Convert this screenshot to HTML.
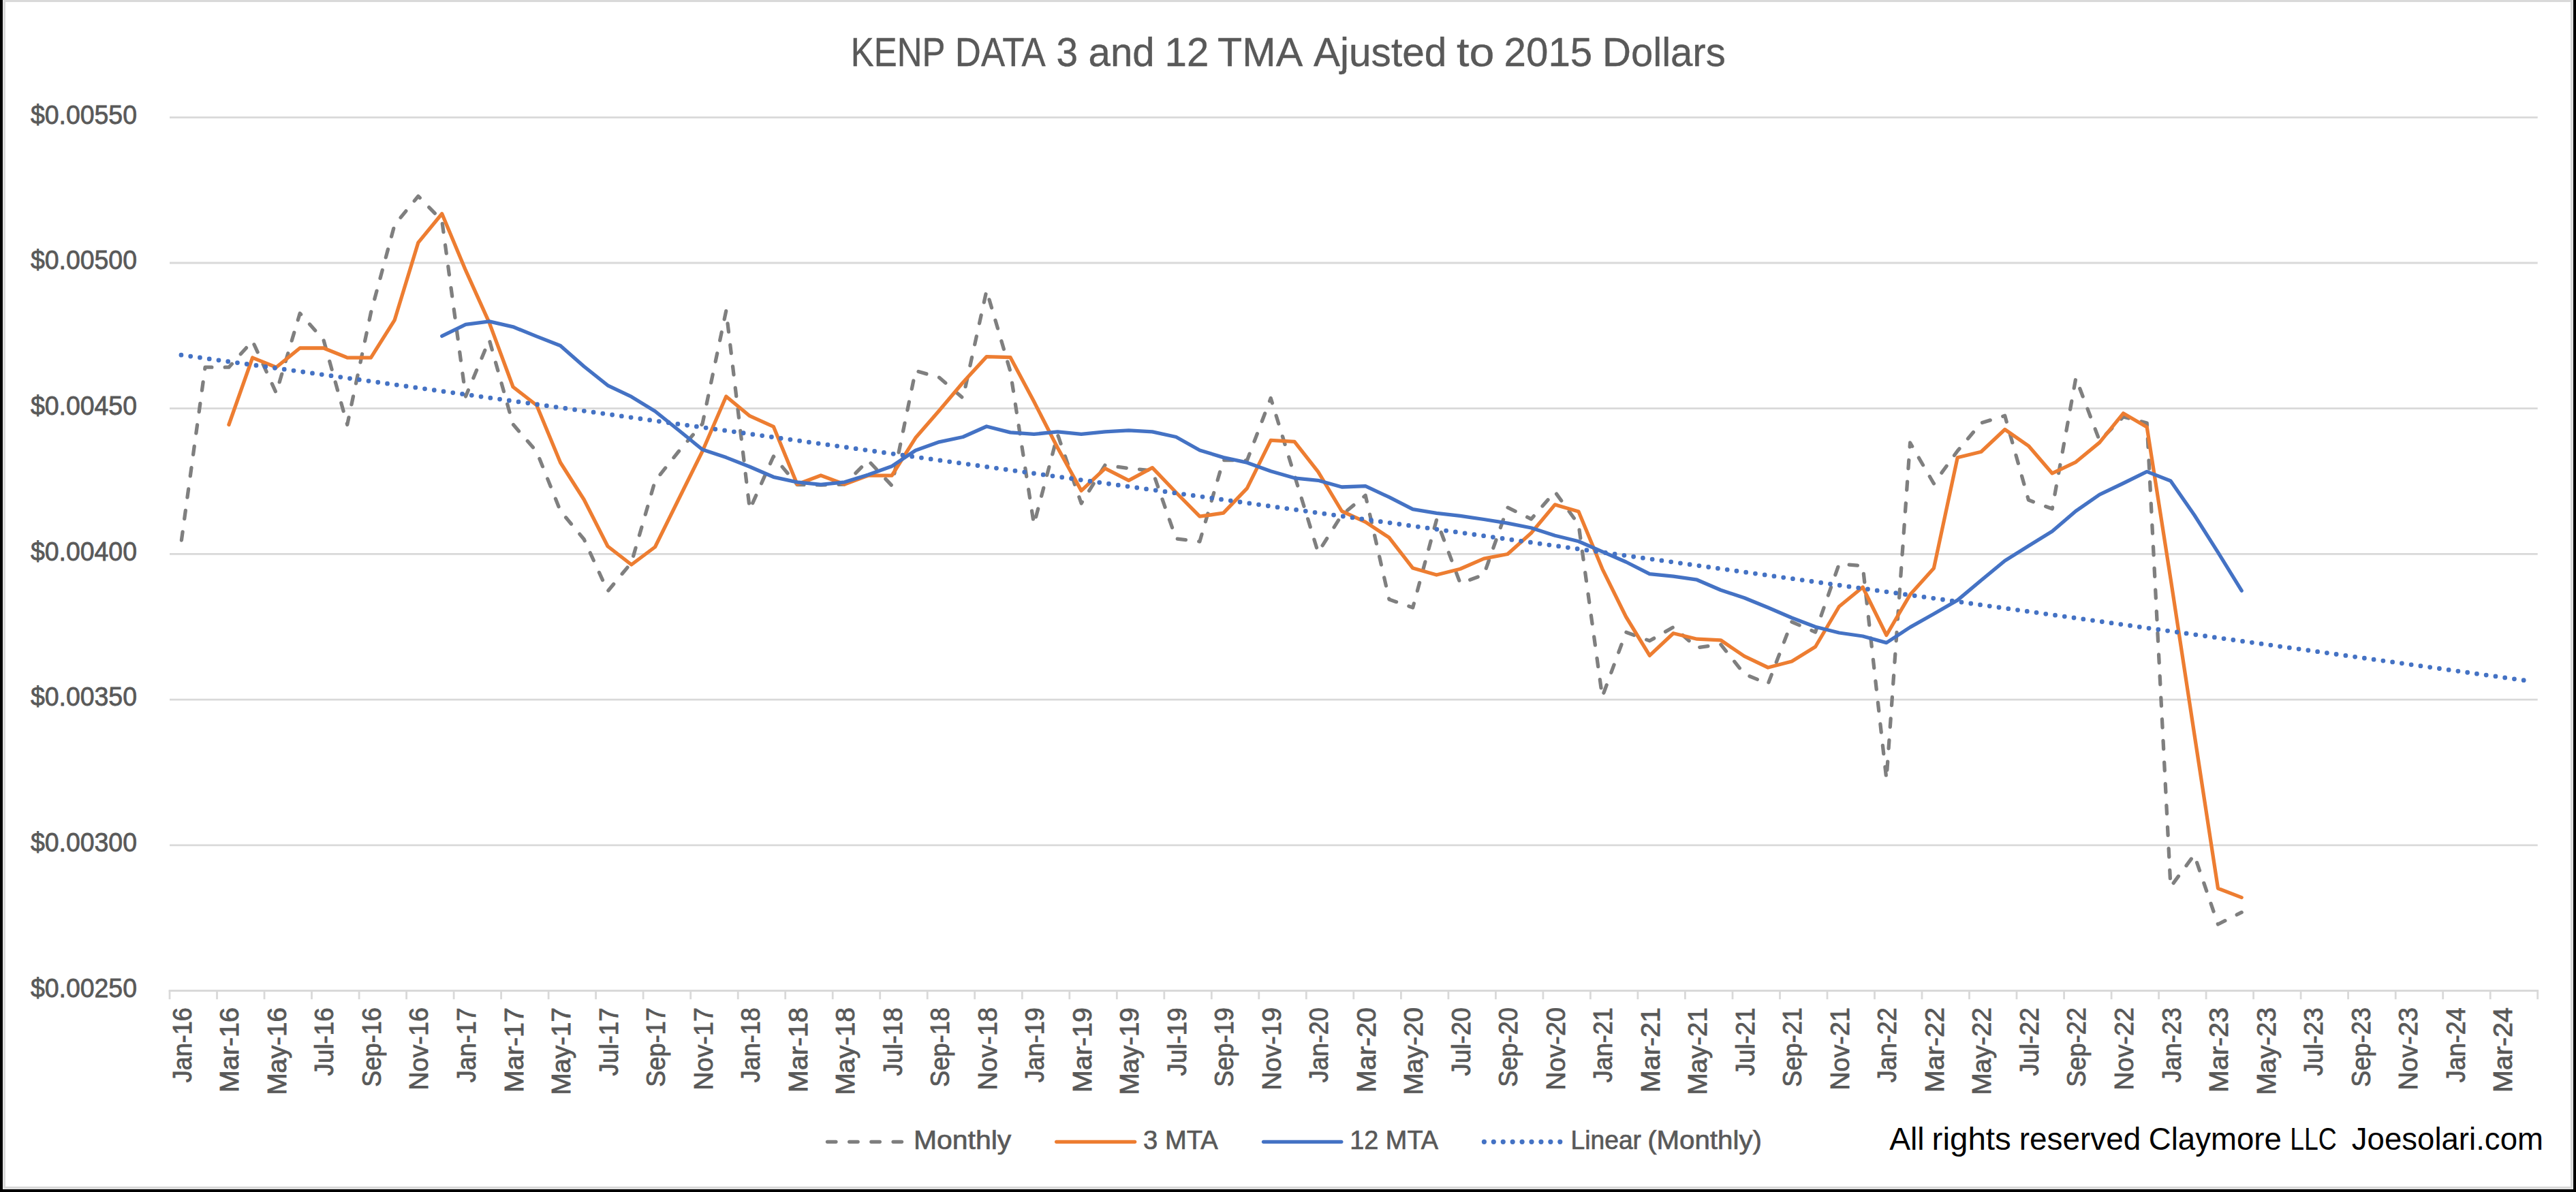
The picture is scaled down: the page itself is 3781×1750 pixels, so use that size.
<!DOCTYPE html>
<html><head><meta charset="utf-8"><title>KENP chart</title>
<style>
html,body{margin:0;padding:0;background:#000;}
body{width:3781px;height:1750px;position:relative;overflow:hidden;font-family:"Liberation Sans",sans-serif;}
#frame{position:absolute;left:4px;top:-1px;width:3773px;height:1747px;background:#fff;box-sizing:border-box;border:1px solid #ececec;}
#inner{position:absolute;left:0;top:0;right:0;bottom:0;border:3px solid #d9d9d9;}
</style></head><body>
<div id="frame"><div id="inner"></div></div>
<svg width="3781" height="1750" viewBox="0 0 3781 1750" style="position:absolute;left:0;top:0">
<line x1="249.0" y1="172.3" x2="3724.7" y2="172.3" stroke="#d9d9d9" stroke-width="2.8"/>
<line x1="249.0" y1="386.0" x2="3724.7" y2="386.0" stroke="#d9d9d9" stroke-width="2.8"/>
<line x1="249.0" y1="599.7" x2="3724.7" y2="599.7" stroke="#d9d9d9" stroke-width="2.8"/>
<line x1="249.0" y1="813.3999999999999" x2="3724.7" y2="813.3999999999999" stroke="#d9d9d9" stroke-width="2.8"/>
<line x1="249.0" y1="1027.1" x2="3724.7" y2="1027.1" stroke="#d9d9d9" stroke-width="2.8"/>
<line x1="249.0" y1="1240.8" x2="3724.7" y2="1240.8" stroke="#d9d9d9" stroke-width="2.8"/>
<line x1="247.6" y1="1454.4999999999998" x2="3726.1" y2="1454.4999999999998" stroke="#d9d9d9" stroke-width="2.8"/>
<line x1="249.0" y1="1454.4999999999998" x2="249.0" y2="1467.0999999999997" stroke="#d9d9d9" stroke-width="2.8"/>
<line x1="318.5" y1="1454.4999999999998" x2="318.5" y2="1467.0999999999997" stroke="#d9d9d9" stroke-width="2.8"/>
<line x1="388.0" y1="1454.4999999999998" x2="388.0" y2="1467.0999999999997" stroke="#d9d9d9" stroke-width="2.8"/>
<line x1="457.5" y1="1454.4999999999998" x2="457.5" y2="1467.0999999999997" stroke="#d9d9d9" stroke-width="2.8"/>
<line x1="527.1" y1="1454.4999999999998" x2="527.1" y2="1467.0999999999997" stroke="#d9d9d9" stroke-width="2.8"/>
<line x1="596.6" y1="1454.4999999999998" x2="596.6" y2="1467.0999999999997" stroke="#d9d9d9" stroke-width="2.8"/>
<line x1="666.1" y1="1454.4999999999998" x2="666.1" y2="1467.0999999999997" stroke="#d9d9d9" stroke-width="2.8"/>
<line x1="735.6" y1="1454.4999999999998" x2="735.6" y2="1467.0999999999997" stroke="#d9d9d9" stroke-width="2.8"/>
<line x1="805.1" y1="1454.4999999999998" x2="805.1" y2="1467.0999999999997" stroke="#d9d9d9" stroke-width="2.8"/>
<line x1="874.6" y1="1454.4999999999998" x2="874.6" y2="1467.0999999999997" stroke="#d9d9d9" stroke-width="2.8"/>
<line x1="944.1" y1="1454.4999999999998" x2="944.1" y2="1467.0999999999997" stroke="#d9d9d9" stroke-width="2.8"/>
<line x1="1013.7" y1="1454.4999999999998" x2="1013.7" y2="1467.0999999999997" stroke="#d9d9d9" stroke-width="2.8"/>
<line x1="1083.2" y1="1454.4999999999998" x2="1083.2" y2="1467.0999999999997" stroke="#d9d9d9" stroke-width="2.8"/>
<line x1="1152.7" y1="1454.4999999999998" x2="1152.7" y2="1467.0999999999997" stroke="#d9d9d9" stroke-width="2.8"/>
<line x1="1222.2" y1="1454.4999999999998" x2="1222.2" y2="1467.0999999999997" stroke="#d9d9d9" stroke-width="2.8"/>
<line x1="1291.7" y1="1454.4999999999998" x2="1291.7" y2="1467.0999999999997" stroke="#d9d9d9" stroke-width="2.8"/>
<line x1="1361.2" y1="1454.4999999999998" x2="1361.2" y2="1467.0999999999997" stroke="#d9d9d9" stroke-width="2.8"/>
<line x1="1430.7" y1="1454.4999999999998" x2="1430.7" y2="1467.0999999999997" stroke="#d9d9d9" stroke-width="2.8"/>
<line x1="1500.3" y1="1454.4999999999998" x2="1500.3" y2="1467.0999999999997" stroke="#d9d9d9" stroke-width="2.8"/>
<line x1="1569.8" y1="1454.4999999999998" x2="1569.8" y2="1467.0999999999997" stroke="#d9d9d9" stroke-width="2.8"/>
<line x1="1639.3" y1="1454.4999999999998" x2="1639.3" y2="1467.0999999999997" stroke="#d9d9d9" stroke-width="2.8"/>
<line x1="1708.8" y1="1454.4999999999998" x2="1708.8" y2="1467.0999999999997" stroke="#d9d9d9" stroke-width="2.8"/>
<line x1="1778.3" y1="1454.4999999999998" x2="1778.3" y2="1467.0999999999997" stroke="#d9d9d9" stroke-width="2.8"/>
<line x1="1847.8" y1="1454.4999999999998" x2="1847.8" y2="1467.0999999999997" stroke="#d9d9d9" stroke-width="2.8"/>
<line x1="1917.3" y1="1454.4999999999998" x2="1917.3" y2="1467.0999999999997" stroke="#d9d9d9" stroke-width="2.8"/>
<line x1="1986.8" y1="1454.4999999999998" x2="1986.8" y2="1467.0999999999997" stroke="#d9d9d9" stroke-width="2.8"/>
<line x1="2056.4" y1="1454.4999999999998" x2="2056.4" y2="1467.0999999999997" stroke="#d9d9d9" stroke-width="2.8"/>
<line x1="2125.9" y1="1454.4999999999998" x2="2125.9" y2="1467.0999999999997" stroke="#d9d9d9" stroke-width="2.8"/>
<line x1="2195.4" y1="1454.4999999999998" x2="2195.4" y2="1467.0999999999997" stroke="#d9d9d9" stroke-width="2.8"/>
<line x1="2264.9" y1="1454.4999999999998" x2="2264.9" y2="1467.0999999999997" stroke="#d9d9d9" stroke-width="2.8"/>
<line x1="2334.4" y1="1454.4999999999998" x2="2334.4" y2="1467.0999999999997" stroke="#d9d9d9" stroke-width="2.8"/>
<line x1="2403.9" y1="1454.4999999999998" x2="2403.9" y2="1467.0999999999997" stroke="#d9d9d9" stroke-width="2.8"/>
<line x1="2473.4" y1="1454.4999999999998" x2="2473.4" y2="1467.0999999999997" stroke="#d9d9d9" stroke-width="2.8"/>
<line x1="2543.0" y1="1454.4999999999998" x2="2543.0" y2="1467.0999999999997" stroke="#d9d9d9" stroke-width="2.8"/>
<line x1="2612.5" y1="1454.4999999999998" x2="2612.5" y2="1467.0999999999997" stroke="#d9d9d9" stroke-width="2.8"/>
<line x1="2682.0" y1="1454.4999999999998" x2="2682.0" y2="1467.0999999999997" stroke="#d9d9d9" stroke-width="2.8"/>
<line x1="2751.5" y1="1454.4999999999998" x2="2751.5" y2="1467.0999999999997" stroke="#d9d9d9" stroke-width="2.8"/>
<line x1="2821.0" y1="1454.4999999999998" x2="2821.0" y2="1467.0999999999997" stroke="#d9d9d9" stroke-width="2.8"/>
<line x1="2890.5" y1="1454.4999999999998" x2="2890.5" y2="1467.0999999999997" stroke="#d9d9d9" stroke-width="2.8"/>
<line x1="2960.0" y1="1454.4999999999998" x2="2960.0" y2="1467.0999999999997" stroke="#d9d9d9" stroke-width="2.8"/>
<line x1="3029.6" y1="1454.4999999999998" x2="3029.6" y2="1467.0999999999997" stroke="#d9d9d9" stroke-width="2.8"/>
<line x1="3099.1" y1="1454.4999999999998" x2="3099.1" y2="1467.0999999999997" stroke="#d9d9d9" stroke-width="2.8"/>
<line x1="3168.6" y1="1454.4999999999998" x2="3168.6" y2="1467.0999999999997" stroke="#d9d9d9" stroke-width="2.8"/>
<line x1="3238.1" y1="1454.4999999999998" x2="3238.1" y2="1467.0999999999997" stroke="#d9d9d9" stroke-width="2.8"/>
<line x1="3307.6" y1="1454.4999999999998" x2="3307.6" y2="1467.0999999999997" stroke="#d9d9d9" stroke-width="2.8"/>
<line x1="3377.1" y1="1454.4999999999998" x2="3377.1" y2="1467.0999999999997" stroke="#d9d9d9" stroke-width="2.8"/>
<line x1="3446.6" y1="1454.4999999999998" x2="3446.6" y2="1467.0999999999997" stroke="#d9d9d9" stroke-width="2.8"/>
<line x1="3516.2" y1="1454.4999999999998" x2="3516.2" y2="1467.0999999999997" stroke="#d9d9d9" stroke-width="2.8"/>
<line x1="3585.7" y1="1454.4999999999998" x2="3585.7" y2="1467.0999999999997" stroke="#d9d9d9" stroke-width="2.8"/>
<line x1="3655.2" y1="1454.4999999999998" x2="3655.2" y2="1467.0999999999997" stroke="#d9d9d9" stroke-width="2.8"/>
<line x1="3724.7" y1="1454.4999999999998" x2="3724.7" y2="1467.0999999999997" stroke="#d9d9d9" stroke-width="2.8"/>
<text x="44.92" y="181.5" font-family="Liberation Sans" font-size="38.6" fill="#595959" stroke="#595959" stroke-width="0.8" textLength="156.05" lengthAdjust="spacingAndGlyphs">$0.00550</text>
<text x="44.92" y="395.2" font-family="Liberation Sans" font-size="38.6" fill="#595959" stroke="#595959" stroke-width="0.8" textLength="156.05" lengthAdjust="spacingAndGlyphs">$0.00500</text>
<text x="44.92" y="608.9" font-family="Liberation Sans" font-size="38.6" fill="#595959" stroke="#595959" stroke-width="0.8" textLength="156.05" lengthAdjust="spacingAndGlyphs">$0.00450</text>
<text x="44.92" y="822.6" font-family="Liberation Sans" font-size="38.6" fill="#595959" stroke="#595959" stroke-width="0.8" textLength="156.05" lengthAdjust="spacingAndGlyphs">$0.00400</text>
<text x="44.92" y="1036.3" font-family="Liberation Sans" font-size="38.6" fill="#595959" stroke="#595959" stroke-width="0.8" textLength="156.05" lengthAdjust="spacingAndGlyphs">$0.00350</text>
<text x="44.92" y="1250.0" font-family="Liberation Sans" font-size="38.6" fill="#595959" stroke="#595959" stroke-width="0.8" textLength="156.05" lengthAdjust="spacingAndGlyphs">$0.00300</text>
<text x="44.92" y="1463.7" font-family="Liberation Sans" font-size="38.6" fill="#595959" stroke="#595959" stroke-width="0.8" textLength="156.05" lengthAdjust="spacingAndGlyphs">$0.00250</text>
<text transform="translate(280.9,1589.17) rotate(-90)" x="0" y="0" font-family="Liberation Sans" font-size="38.3" fill="#595959" stroke="#595959" stroke-width="0.9" textLength="109.88" lengthAdjust="spacingAndGlyphs">Jan-16</text>
<text transform="translate(350.4,1603.88) rotate(-90)" x="0" y="0" font-family="Liberation Sans" font-size="38.3" fill="#595959" stroke="#595959" stroke-width="0.9" textLength="124.69" lengthAdjust="spacingAndGlyphs">Mar-16</text>
<text transform="translate(419.9,1607.62) rotate(-90)" x="0" y="0" font-family="Liberation Sans" font-size="38.3" fill="#595959" stroke="#595959" stroke-width="0.9" textLength="128.53" lengthAdjust="spacingAndGlyphs">May-16</text>
<text transform="translate(489.4,1579.38) rotate(-90)" x="0" y="0" font-family="Liberation Sans" font-size="38.3" fill="#595959" stroke="#595959" stroke-width="0.9" textLength="100.08" lengthAdjust="spacingAndGlyphs">Jul-16</text>
<text transform="translate(558.9,1595.65) rotate(-90)" x="0" y="0" font-family="Liberation Sans" font-size="38.3" fill="#595959" stroke="#595959" stroke-width="0.9" textLength="116.50" lengthAdjust="spacingAndGlyphs">Sep-16</text>
<text transform="translate(628.4,1600.76) rotate(-90)" x="0" y="0" font-family="Liberation Sans" font-size="38.3" fill="#595959" stroke="#595959" stroke-width="0.9" textLength="121.65" lengthAdjust="spacingAndGlyphs">Nov-16</text>
<text transform="translate(698.0,1589.17) rotate(-90)" x="0" y="0" font-family="Liberation Sans" font-size="38.3" fill="#595959" stroke="#595959" stroke-width="0.9" textLength="109.88" lengthAdjust="spacingAndGlyphs">Jan-17</text>
<text transform="translate(767.5,1603.88) rotate(-90)" x="0" y="0" font-family="Liberation Sans" font-size="38.3" fill="#595959" stroke="#595959" stroke-width="0.9" textLength="124.69" lengthAdjust="spacingAndGlyphs">Mar-17</text>
<text transform="translate(837.0,1607.62) rotate(-90)" x="0" y="0" font-family="Liberation Sans" font-size="38.3" fill="#595959" stroke="#595959" stroke-width="0.9" textLength="128.53" lengthAdjust="spacingAndGlyphs">May-17</text>
<text transform="translate(906.5,1579.38) rotate(-90)" x="0" y="0" font-family="Liberation Sans" font-size="38.3" fill="#595959" stroke="#595959" stroke-width="0.9" textLength="100.08" lengthAdjust="spacingAndGlyphs">Jul-17</text>
<text transform="translate(976.0,1595.65) rotate(-90)" x="0" y="0" font-family="Liberation Sans" font-size="38.3" fill="#595959" stroke="#595959" stroke-width="0.9" textLength="116.50" lengthAdjust="spacingAndGlyphs">Sep-17</text>
<text transform="translate(1045.5,1600.76) rotate(-90)" x="0" y="0" font-family="Liberation Sans" font-size="38.3" fill="#595959" stroke="#595959" stroke-width="0.9" textLength="121.65" lengthAdjust="spacingAndGlyphs">Nov-17</text>
<text transform="translate(1115.0,1589.17) rotate(-90)" x="0" y="0" font-family="Liberation Sans" font-size="38.3" fill="#595959" stroke="#595959" stroke-width="0.9" textLength="109.88" lengthAdjust="spacingAndGlyphs">Jan-18</text>
<text transform="translate(1184.6,1603.88) rotate(-90)" x="0" y="0" font-family="Liberation Sans" font-size="38.3" fill="#595959" stroke="#595959" stroke-width="0.9" textLength="124.69" lengthAdjust="spacingAndGlyphs">Mar-18</text>
<text transform="translate(1254.1,1607.62) rotate(-90)" x="0" y="0" font-family="Liberation Sans" font-size="38.3" fill="#595959" stroke="#595959" stroke-width="0.9" textLength="128.53" lengthAdjust="spacingAndGlyphs">May-18</text>
<text transform="translate(1323.6,1579.38) rotate(-90)" x="0" y="0" font-family="Liberation Sans" font-size="38.3" fill="#595959" stroke="#595959" stroke-width="0.9" textLength="100.08" lengthAdjust="spacingAndGlyphs">Jul-18</text>
<text transform="translate(1393.1,1595.65) rotate(-90)" x="0" y="0" font-family="Liberation Sans" font-size="38.3" fill="#595959" stroke="#595959" stroke-width="0.9" textLength="116.50" lengthAdjust="spacingAndGlyphs">Sep-18</text>
<text transform="translate(1462.6,1600.76) rotate(-90)" x="0" y="0" font-family="Liberation Sans" font-size="38.3" fill="#595959" stroke="#595959" stroke-width="0.9" textLength="121.65" lengthAdjust="spacingAndGlyphs">Nov-18</text>
<text transform="translate(1532.1,1589.17) rotate(-90)" x="0" y="0" font-family="Liberation Sans" font-size="38.3" fill="#595959" stroke="#595959" stroke-width="0.9" textLength="109.88" lengthAdjust="spacingAndGlyphs">Jan-19</text>
<text transform="translate(1601.6,1603.88) rotate(-90)" x="0" y="0" font-family="Liberation Sans" font-size="38.3" fill="#595959" stroke="#595959" stroke-width="0.9" textLength="124.69" lengthAdjust="spacingAndGlyphs">Mar-19</text>
<text transform="translate(1671.2,1607.62) rotate(-90)" x="0" y="0" font-family="Liberation Sans" font-size="38.3" fill="#595959" stroke="#595959" stroke-width="0.9" textLength="128.53" lengthAdjust="spacingAndGlyphs">May-19</text>
<text transform="translate(1740.7,1579.38) rotate(-90)" x="0" y="0" font-family="Liberation Sans" font-size="38.3" fill="#595959" stroke="#595959" stroke-width="0.9" textLength="100.08" lengthAdjust="spacingAndGlyphs">Jul-19</text>
<text transform="translate(1810.2,1595.65) rotate(-90)" x="0" y="0" font-family="Liberation Sans" font-size="38.3" fill="#595959" stroke="#595959" stroke-width="0.9" textLength="116.50" lengthAdjust="spacingAndGlyphs">Sep-19</text>
<text transform="translate(1879.7,1600.76) rotate(-90)" x="0" y="0" font-family="Liberation Sans" font-size="38.3" fill="#595959" stroke="#595959" stroke-width="0.9" textLength="121.65" lengthAdjust="spacingAndGlyphs">Nov-19</text>
<text transform="translate(1949.2,1589.17) rotate(-90)" x="0" y="0" font-family="Liberation Sans" font-size="38.3" fill="#595959" stroke="#595959" stroke-width="0.9" textLength="109.88" lengthAdjust="spacingAndGlyphs">Jan-20</text>
<text transform="translate(2018.7,1603.88) rotate(-90)" x="0" y="0" font-family="Liberation Sans" font-size="38.3" fill="#595959" stroke="#595959" stroke-width="0.9" textLength="124.69" lengthAdjust="spacingAndGlyphs">Mar-20</text>
<text transform="translate(2088.2,1607.62) rotate(-90)" x="0" y="0" font-family="Liberation Sans" font-size="38.3" fill="#595959" stroke="#595959" stroke-width="0.9" textLength="128.53" lengthAdjust="spacingAndGlyphs">May-20</text>
<text transform="translate(2157.8,1579.38) rotate(-90)" x="0" y="0" font-family="Liberation Sans" font-size="38.3" fill="#595959" stroke="#595959" stroke-width="0.9" textLength="100.08" lengthAdjust="spacingAndGlyphs">Jul-20</text>
<text transform="translate(2227.3,1595.65) rotate(-90)" x="0" y="0" font-family="Liberation Sans" font-size="38.3" fill="#595959" stroke="#595959" stroke-width="0.9" textLength="116.50" lengthAdjust="spacingAndGlyphs">Sep-20</text>
<text transform="translate(2296.8,1600.76) rotate(-90)" x="0" y="0" font-family="Liberation Sans" font-size="38.3" fill="#595959" stroke="#595959" stroke-width="0.9" textLength="121.65" lengthAdjust="spacingAndGlyphs">Nov-20</text>
<text transform="translate(2366.3,1589.17) rotate(-90)" x="0" y="0" font-family="Liberation Sans" font-size="38.3" fill="#595959" stroke="#595959" stroke-width="0.9" textLength="109.88" lengthAdjust="spacingAndGlyphs">Jan-21</text>
<text transform="translate(2435.8,1603.88) rotate(-90)" x="0" y="0" font-family="Liberation Sans" font-size="38.3" fill="#595959" stroke="#595959" stroke-width="0.9" textLength="124.69" lengthAdjust="spacingAndGlyphs">Mar-21</text>
<text transform="translate(2505.3,1607.62) rotate(-90)" x="0" y="0" font-family="Liberation Sans" font-size="38.3" fill="#595959" stroke="#595959" stroke-width="0.9" textLength="128.53" lengthAdjust="spacingAndGlyphs">May-21</text>
<text transform="translate(2574.8,1579.38) rotate(-90)" x="0" y="0" font-family="Liberation Sans" font-size="38.3" fill="#595959" stroke="#595959" stroke-width="0.9" textLength="100.08" lengthAdjust="spacingAndGlyphs">Jul-21</text>
<text transform="translate(2644.4,1595.65) rotate(-90)" x="0" y="0" font-family="Liberation Sans" font-size="38.3" fill="#595959" stroke="#595959" stroke-width="0.9" textLength="116.50" lengthAdjust="spacingAndGlyphs">Sep-21</text>
<text transform="translate(2713.9,1600.76) rotate(-90)" x="0" y="0" font-family="Liberation Sans" font-size="38.3" fill="#595959" stroke="#595959" stroke-width="0.9" textLength="121.65" lengthAdjust="spacingAndGlyphs">Nov-21</text>
<text transform="translate(2783.4,1589.17) rotate(-90)" x="0" y="0" font-family="Liberation Sans" font-size="38.3" fill="#595959" stroke="#595959" stroke-width="0.9" textLength="109.88" lengthAdjust="spacingAndGlyphs">Jan-22</text>
<text transform="translate(2852.9,1603.88) rotate(-90)" x="0" y="0" font-family="Liberation Sans" font-size="38.3" fill="#595959" stroke="#595959" stroke-width="0.9" textLength="124.69" lengthAdjust="spacingAndGlyphs">Mar-22</text>
<text transform="translate(2922.4,1607.62) rotate(-90)" x="0" y="0" font-family="Liberation Sans" font-size="38.3" fill="#595959" stroke="#595959" stroke-width="0.9" textLength="128.53" lengthAdjust="spacingAndGlyphs">May-22</text>
<text transform="translate(2991.9,1579.38) rotate(-90)" x="0" y="0" font-family="Liberation Sans" font-size="38.3" fill="#595959" stroke="#595959" stroke-width="0.9" textLength="100.08" lengthAdjust="spacingAndGlyphs">Jul-22</text>
<text transform="translate(3061.4,1595.65) rotate(-90)" x="0" y="0" font-family="Liberation Sans" font-size="38.3" fill="#595959" stroke="#595959" stroke-width="0.9" textLength="116.50" lengthAdjust="spacingAndGlyphs">Sep-22</text>
<text transform="translate(3131.0,1600.76) rotate(-90)" x="0" y="0" font-family="Liberation Sans" font-size="38.3" fill="#595959" stroke="#595959" stroke-width="0.9" textLength="121.65" lengthAdjust="spacingAndGlyphs">Nov-22</text>
<text transform="translate(3200.5,1589.17) rotate(-90)" x="0" y="0" font-family="Liberation Sans" font-size="38.3" fill="#595959" stroke="#595959" stroke-width="0.9" textLength="109.88" lengthAdjust="spacingAndGlyphs">Jan-23</text>
<text transform="translate(3270.0,1603.88) rotate(-90)" x="0" y="0" font-family="Liberation Sans" font-size="38.3" fill="#595959" stroke="#595959" stroke-width="0.9" textLength="124.69" lengthAdjust="spacingAndGlyphs">Mar-23</text>
<text transform="translate(3339.5,1607.62) rotate(-90)" x="0" y="0" font-family="Liberation Sans" font-size="38.3" fill="#595959" stroke="#595959" stroke-width="0.9" textLength="128.53" lengthAdjust="spacingAndGlyphs">May-23</text>
<text transform="translate(3409.0,1579.38) rotate(-90)" x="0" y="0" font-family="Liberation Sans" font-size="38.3" fill="#595959" stroke="#595959" stroke-width="0.9" textLength="100.08" lengthAdjust="spacingAndGlyphs">Jul-23</text>
<text transform="translate(3478.5,1595.65) rotate(-90)" x="0" y="0" font-family="Liberation Sans" font-size="38.3" fill="#595959" stroke="#595959" stroke-width="0.9" textLength="116.50" lengthAdjust="spacingAndGlyphs">Sep-23</text>
<text transform="translate(3548.0,1600.76) rotate(-90)" x="0" y="0" font-family="Liberation Sans" font-size="38.3" fill="#595959" stroke="#595959" stroke-width="0.9" textLength="121.65" lengthAdjust="spacingAndGlyphs">Nov-23</text>
<text transform="translate(3617.6,1589.17) rotate(-90)" x="0" y="0" font-family="Liberation Sans" font-size="38.3" fill="#595959" stroke="#595959" stroke-width="0.9" textLength="109.88" lengthAdjust="spacingAndGlyphs">Jan-24</text>
<text transform="translate(3687.1,1603.88) rotate(-90)" x="0" y="0" font-family="Liberation Sans" font-size="38.3" fill="#595959" stroke="#595959" stroke-width="0.9" textLength="124.69" lengthAdjust="spacingAndGlyphs">Mar-24</text>
<path d="M266.4 793.0 L301.1 539.2 L335.9 539.2 L370.6 500.5 L405.4 577.0 L440.2 460.0 L474.9 499.0 L509.7 623.5 L544.4 459.0 L579.2 330.0 L613.9 288.0 L648.7 324.0 L683.5 582.0 L718.2 499.0 L753.0 623.0 L787.7 663.0 L822.5 750.0 L857.2 791.8 L892.0 868.0 L926.8 826.0 L961.5 706.0 L996.3 662.5 L1031.0 622.3 L1065.8 456.2 L1100.5 748.0 L1135.3 670.0 L1170.1 711.5 L1204.8 712.0 L1239.6 711.0 L1274.3 676.0 L1309.1 713.0 L1343.8 544.3 L1378.6 554.3 L1413.4 584.5 L1448.1 426.5 L1482.9 545.0 L1517.6 770.0 L1552.4 638.0 L1587.1 739.0 L1621.9 683.0 L1656.7 687.5 L1691.4 691.0 L1726.2 790.9 L1760.9 795.0 L1795.7 675.5 L1830.4 676.0 L1865.2 584.5 L1900.0 697.8 L1934.7 811.0 L1969.5 756.0 L2004.2 727.3 L2039.0 880.0 L2073.7 892.0 L2108.5 763.5 L2143.3 856.3 L2178.0 843.8 L2212.8 745.0 L2247.5 762.0 L2282.3 722.0 L2317.0 770.0 L2351.8 1023.0 L2386.6 928.2 L2421.3 940.8 L2456.1 920.6 L2490.8 950.8 L2525.6 946.0 L2560.3 989.5 L2595.1 1004.0 L2629.9 913.0 L2664.6 928.0 L2699.4 828.0 L2734.1 830.8 L2768.9 1144.0 L2803.6 650.0 L2838.4 710.0 L2873.2 662.0 L2907.9 621.0 L2942.7 610.3 L2977.4 734.0 L3012.2 747.0 L3046.9 555.0 L3081.7 647.0 L3116.5 612.0 L3151.2 621.0 L3186.0 1302.0 L3220.7 1255.0 L3255.5 1357.0 L3290.2 1339.4" fill="none" stroke="#7f7f7f" stroke-width="5.3" stroke-dasharray="12.3 19.4" stroke-linecap="round" stroke-linejoin="round"/>
<path d="M335.9 623.5 L370.6 525.1 L405.4 539.2 L440.2 511.0 L474.9 511.0 L509.7 525.1 L544.4 525.1 L579.2 469.8 L613.9 356.1 L648.7 313.8 L683.5 396.9 L718.2 473.8 L753.0 568.0 L787.7 595.0 L822.5 679.0 L857.2 733.5 L892.0 802.0 L926.8 829.0 L961.5 803.0 L996.3 732.5 L1031.0 662.5 L1065.8 582.0 L1100.5 610.7 L1135.3 626.3 L1170.1 711.0 L1204.8 698.0 L1239.6 711.0 L1274.3 698.2 L1309.1 698.0 L1343.8 642.8 L1378.6 602.8 L1413.4 561.5 L1448.1 523.6 L1482.9 524.6 L1517.6 589.6 L1552.4 657.5 L1587.1 720.4 L1621.9 687.7 L1656.7 705.3 L1691.4 686.7 L1726.2 723.0 L1760.9 758.2 L1795.7 753.2 L1830.4 716.9 L1865.2 646.4 L1900.0 648.4 L1934.7 692.7 L1969.5 750.5 L2004.2 766.4 L2039.0 789.3 L2073.7 834.0 L2108.5 844.0 L2143.3 835.2 L2178.0 820.1 L2212.8 813.5 L2247.5 782.5 L2282.3 740.9 L2317.0 751.0 L2351.8 835.1 L2386.6 905.5 L2421.3 962.4 L2456.1 929.7 L2490.8 938.2 L2525.6 939.8 L2560.3 963.4 L2595.1 980.0 L2629.9 971.0 L2664.6 949.5 L2699.4 890.5 L2734.1 862.0 L2768.9 932.5 L2803.6 873.1 L2838.4 834.3 L2873.2 671.7 L2907.9 663.2 L2942.7 630.5 L2977.4 654.6 L3012.2 694.9 L3046.9 678.3 L3081.7 649.6 L3116.5 606.8 L3151.2 627.0 L3186.0 849.6 L3220.7 1077.0 L3255.5 1304.2 L3290.2 1317.6" fill="none" stroke="#ed7d31" stroke-width="5.3" stroke-linecap="round" stroke-linejoin="round"/>
<path d="M648.7 493.4 L683.5 476.3 L718.2 471.8 L753.0 479.8 L787.7 493.9 L822.5 507.5 L857.2 538.0 L892.0 565.8 L926.8 582.4 L961.5 603.7 L996.3 631.8 L1031.0 660.0 L1065.8 671.6 L1100.5 685.2 L1135.3 700.3 L1170.1 707.8 L1204.8 711.4 L1239.6 707.8 L1274.3 697.0 L1309.1 684.4 L1343.8 661.2 L1378.6 648.8 L1413.4 641.5 L1448.1 626.0 L1482.9 634.9 L1517.6 637.4 L1552.4 633.9 L1587.1 637.4 L1621.9 633.9 L1656.7 631.8 L1691.4 633.9 L1726.2 641.5 L1760.9 661.0 L1795.7 671.6 L1830.4 679.2 L1865.2 691.7 L1900.0 701.8 L1934.7 705.3 L1969.5 715.0 L2004.2 713.7 L2039.0 729.9 L2073.7 747.6 L2108.5 753.3 L2143.3 757.4 L2178.0 762.5 L2212.8 768.1 L2247.5 775.0 L2282.3 786.2 L2317.0 794.8 L2351.8 809.9 L2386.6 825.0 L2421.3 842.6 L2456.1 846.1 L2490.8 851.2 L2525.6 866.3 L2560.3 877.8 L2595.1 892.0 L2629.9 907.0 L2664.6 920.3 L2699.4 929.0 L2734.1 934.0 L2768.9 943.6 L2803.6 920.9 L2838.4 901.3 L2873.2 881.1 L2907.9 852.0 L2942.7 823.3 L2977.4 801.6 L3012.2 780.0 L3046.9 750.3 L3081.7 726.1 L3116.5 709.5 L3151.2 692.4 L3186.0 706.0 L3220.7 756.0 L3255.5 810.8 L3290.2 867.2" fill="none" stroke="#4472c4" stroke-width="5.3" stroke-linecap="round" stroke-linejoin="round"/>
<path d="M265.94 521.15 L3705.2 998.84" fill="none" stroke="#4472c4" stroke-width="6.8" stroke-dasharray="0 13.885" stroke-linecap="round"/>
<text x="1248.75" y="97.1" font-family="Liberation Sans" font-size="59.7" fill="#595959" stroke="#595959" stroke-width="0.4" textLength="138.65" lengthAdjust="spacingAndGlyphs">KENP</text>
<text x="1401.80" y="97.1" font-family="Liberation Sans" font-size="59.7" fill="#595959" stroke="#595959" stroke-width="0.4" textLength="132.87" lengthAdjust="spacingAndGlyphs">DATA</text>
<text x="1550.46" y="97.1" font-family="Liberation Sans" font-size="59.7" fill="#595959" stroke="#595959" stroke-width="0.4" textLength="31.62" lengthAdjust="spacingAndGlyphs">3</text>
<text x="1597.56" y="97.1" font-family="Liberation Sans" font-size="59.7" fill="#595959" stroke="#595959" stroke-width="0.4" textLength="97.19" lengthAdjust="spacingAndGlyphs">and</text>
<text x="1709.61" y="97.1" font-family="Liberation Sans" font-size="59.7" fill="#595959" stroke="#595959" stroke-width="0.4" textLength="64.83" lengthAdjust="spacingAndGlyphs">12</text>
<text x="1787.06" y="97.1" font-family="Liberation Sans" font-size="59.7" fill="#595959" stroke="#595959" stroke-width="0.4" textLength="125.19" lengthAdjust="spacingAndGlyphs">TMA</text>
<text x="1927.95" y="97.1" font-family="Liberation Sans" font-size="59.7" fill="#595959" stroke="#595959" stroke-width="0.4" textLength="195.42" lengthAdjust="spacingAndGlyphs">Ajusted</text>
<text x="2137.97" y="97.1" font-family="Liberation Sans" font-size="59.7" fill="#595959" stroke="#595959" stroke-width="0.4" textLength="55.35" lengthAdjust="spacingAndGlyphs">to</text>
<text x="2207.57" y="97.1" font-family="Liberation Sans" font-size="59.7" fill="#595959" stroke="#595959" stroke-width="0.4" textLength="129.72" lengthAdjust="spacingAndGlyphs">2015</text>
<text x="2351.98" y="97.1" font-family="Liberation Sans" font-size="59.7" fill="#595959" stroke="#595959" stroke-width="0.4" textLength="180.77" lengthAdjust="spacingAndGlyphs">Dollars</text>
<text x="2773.20" y="1688" font-family="Liberation Sans" font-size="47" fill="#000" textLength="51.44" lengthAdjust="spacingAndGlyphs">All</text>
<text x="2835.56" y="1688" font-family="Liberation Sans" font-size="47" fill="#000" textLength="116.34" lengthAdjust="spacingAndGlyphs">rights</text>
<text x="2963.77" y="1688" font-family="Liberation Sans" font-size="47" fill="#000" textLength="178.52" lengthAdjust="spacingAndGlyphs">reserved</text>
<text x="3153.82" y="1688" font-family="Liberation Sans" font-size="47" fill="#000" textLength="195.03" lengthAdjust="spacingAndGlyphs">Claymore</text>
<text x="3361.21" y="1688" font-family="Liberation Sans" font-size="47" fill="#000" textLength="68.67" lengthAdjust="spacingAndGlyphs">LLC</text>
<text x="3451.77" y="1688" font-family="Liberation Sans" font-size="47" fill="#000" textLength="281.19" lengthAdjust="spacingAndGlyphs">Joesolari.com</text>
<text x="1340.96" y="1687" font-family="Liberation Sans" font-size="38.7" fill="#595959" stroke="#595959" stroke-width="0.7" textLength="143.27" lengthAdjust="spacingAndGlyphs">Monthly</text>
<text x="1678.12" y="1687" font-family="Liberation Sans" font-size="38.7" fill="#595959" stroke="#595959" stroke-width="0.7" textLength="109.54" lengthAdjust="spacingAndGlyphs">3 MTA</text>
<text x="1981.26" y="1687" font-family="Liberation Sans" font-size="38.7" fill="#595959" stroke="#595959" stroke-width="0.7" textLength="129.71" lengthAdjust="spacingAndGlyphs">12 MTA</text>
<text x="2305.47" y="1687" font-family="Liberation Sans" font-size="38.7" fill="#595959" stroke="#595959" stroke-width="0.7" textLength="103.56" lengthAdjust="spacingAndGlyphs">Linear</text>
<text x="2418.16" y="1687" font-family="Liberation Sans" font-size="38.7" fill="#595959" stroke="#595959" stroke-width="0.7" textLength="167.77" lengthAdjust="spacingAndGlyphs">(Monthly)</text>
<line x1="1214.45" y1="1676.3" x2="1323.6" y2="1676.3" stroke="#7f7f7f" stroke-width="5.3" stroke-dasharray="12.5 19.7" stroke-linecap="round"/>
<line x1="1550.65" y1="1676.3" x2="1665.65" y2="1676.3" stroke="#ed7d31" stroke-width="5.3" stroke-linecap="round"/>
<line x1="1854.55" y1="1676.3" x2="1968.85" y2="1676.3" stroke="#4472c4" stroke-width="5.3" stroke-linecap="round"/>
<line x1="2178.4" y1="1676.3" x2="2289.9" y2="1676.3" stroke="#4472c4" stroke-width="7.2" stroke-dasharray="0 13.925" stroke-linecap="round"/>
</svg>
</body></html>
